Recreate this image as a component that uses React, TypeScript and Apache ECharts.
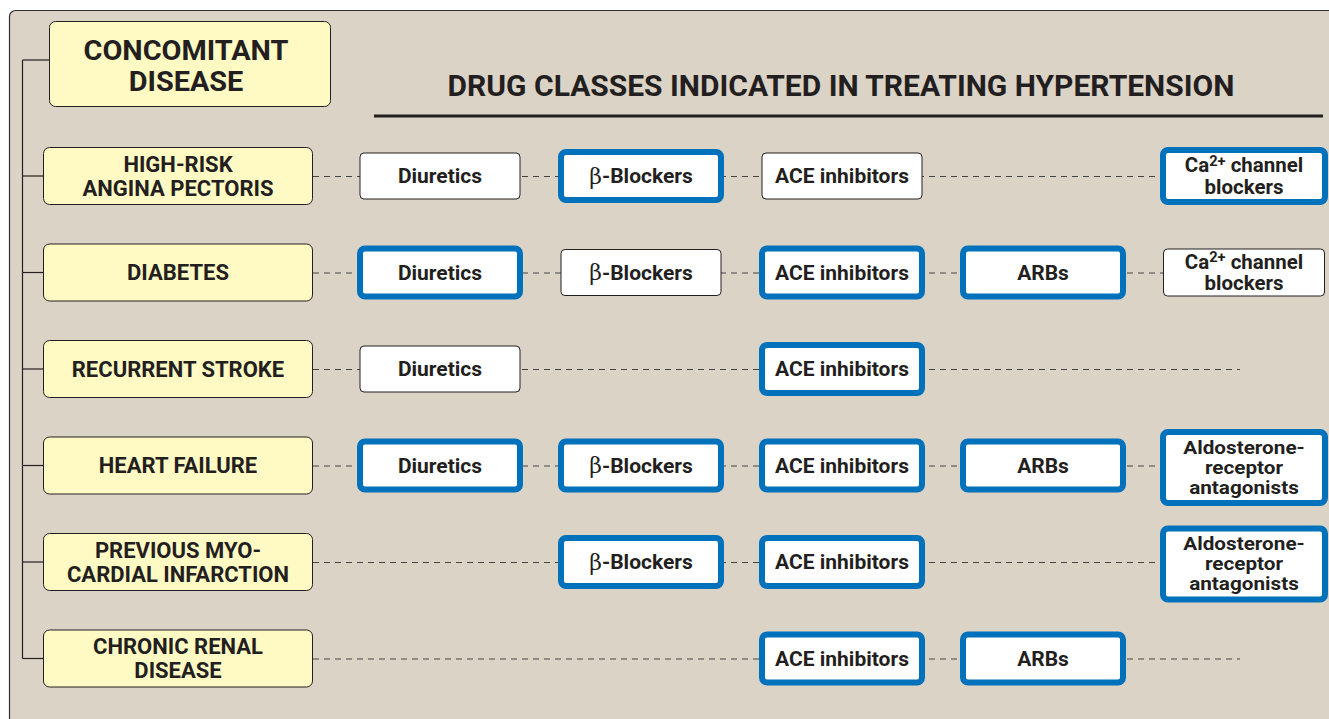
import React, { useEffect, useRef } from "react";
import * as echarts from "echarts";

const headerLabel = "CONCOMITANT\nDISEASE";
const titleText = "DRUG CLASSES INDICATED IN TREATING HYPERTENSION";

const diseases = [
  "HIGH-RISK\nANGINA PECTORIS",
  "DIABETES",
  "RECURRENT STROKE",
  "HEART FAILURE",
  "PREVIOUS MYO-\nCARDIAL INFARCTION",
  "CHRONIC RENAL\nDISEASE",
];

const drugColumns = ["Diuretics", "β-Blockers", "ACE inhibitors", "ARBs", "Other"];

const drugClasses = [
  "Diuretics",
  "β-Blockers",
  "ACE inhibitors",
  "ARBs",
  "Ca2+ channel blockers",
  "Aldosterone-receptor antagonists",
];
const drugClassColumn = [0, 1, 2, 3, 4, 4];
const drugClassLabels = [
  "{t|Diuretics}",
  "{g|β}{t|-Blockers}",
  "{t|ACE inhibitors}",
  "{t|ARBs}",
  "{m|Ca}{sup|2+}{m| channel}\n{m|blockers}",
  "{s|Aldosterone-}\n{s|receptor}\n{s|antagonists}",
];
const drugClassLines = [1, 1, 1, 1, 2, 3];

// per disease: [drug class index, 1 = compelling indication (blue frame)]
const anginaIndications = [[0, 0], [1, 1], [2, 0], [4, 1]];
const diabetesIndications = [[0, 1], [1, 0], [2, 1], [3, 1], [4, 0]];
const strokeIndications = [[0, 0], [2, 1]];
const heartFailureIndications = [[0, 1], [1, 1], [2, 1], [3, 1], [5, 1]];
const infarctionIndications = [[1, 1], [2, 1], [5, 1]];
const renalIndications = [[2, 1], [3, 1]];
const indications = [
  anginaIndications,
  diabetesIndications,
  strokeIndications,
  heartFailureIndications,
  infarctionIndications,
  renalIndications,
];

const INK = "#231f20";
const BLUE = "#0071bb";
const YELLOW = "#fff9c4";
const BEIGE = "#dcd3c7";
const FONT = "Roboto, Lato, sans-serif";

const richStyles = {
  t: { fontFamily: FONT, fontWeight: "bold", fontSize: 21, fill: INK, lineHeight: 23 },
  g: { fontFamily: "'DejaVu Serif', 'Liberation Serif', serif", fontWeight: "normal", fontSize: 22, fill: INK, lineHeight: 23 },
  m: { fontFamily: FONT, fontWeight: "bold", fontSize: 19.5, fill: INK, lineHeight: 21.5 },
  sup: { fontFamily: FONT, fontWeight: "bold", fontSize: 14, fill: INK, lineHeight: 15, verticalAlign: "top" },
  s: { fontFamily: FONT, fontWeight: "bold", fontSize: 18.5, fill: INK, lineHeight: 20 },
};
const labelScaleByLines = [1, 1, 1.05, 1.12];

export default function App() {
  const ref = useRef<HTMLDivElement>(null);
  useEffect(() => {
    document.body.style.margin = "0";
    const chart = echarts.init(ref.current!, null, { renderer: "svg" });

    const renderRow = (params: any, api: any) => {
      const row = params.dataIndex;
      const y = api.coord([0, row])[1];
      const prevY = row === 0 ? 60 : api.coord([0, row - 1])[1];
      const lineEnd = api.coord([4, row])[0] - 4;
      const children: any[] = [];
      children.push({
        type: "line",
        shape: { x1: 22.5, y1: prevY, x2: 22.5, y2: y },
        style: { stroke: INK, lineWidth: 1.2 },
      });
      children.push({
        type: "line",
        shape: { x1: 22.5, y1: y, x2: 43, y2: y },
        style: { stroke: INK, lineWidth: 1.2 },
      });
      children.push({
        type: "line",
        shape: { x1: 313, y1: y + 0.5, x2: lineEnd, y2: y + 0.5 },
        style: { stroke: "#444", lineWidth: 1.1, lineDash: [6, 5] },
      });
      children.push({
        type: "rect",
        shape: { x: 43.5, y: y - 28.5, width: 269, height: 57, r: 6 },
        style: { fill: YELLOW, stroke: INK, lineWidth: 1 },
      });
      children.push({
        type: "text",
        x: 178,
        y: y,
        style: {
          text: diseases[row],
          fontFamily: FONT,
          fontWeight: "bold",
          fontSize: 22,
          lineHeight: 24,
          fill: INK,
          align: "center",
          verticalAlign: "middle",
        },
      });
      indications[row].forEach(([cls, strong]) => {
        const x = api.coord([drugClassColumn[cls], row])[0];
        const lines = drugClassLines[cls];
        let w: number, h: number;
        if (lines === 1) {
          w = 160;
          h = strong ? 48 : 46;
        } else if (lines === 2) {
          w = strong ? 162 : 161;
          h = strong ? 52 : 47;
        } else {
          w = 162;
          h = 71;
        }
        const dy = lines === 3 ? 2 : 0;
        children.push({
          type: "rect",
          shape: { x: x - w / 2, y: y - h / 2 + dy, width: w, height: h, r: strong ? 5 : 4 },
          style: {
            fill: "#fff",
            stroke: strong ? BLUE : INK,
            lineWidth: strong ? 6 : 1,
          },
        });
        children.push({
          type: "text",
          x: x,
          y: y + dy,
          scaleX: labelScaleByLines[lines],
          style: {
            text: drugClassLabels[cls],
            rich: richStyles,
            align: "center",
            verticalAlign: "middle",
            fill: INK,
          },
        });
      });
      return { type: "group", children };
    };

    chart.setOption({
      animation: false,
      grid: {
        left: 339.5,
        top: 127.75,
        width: 1005,
        height: 579,
        containLabel: false,
        outerBoundsMode: "none",
      },
      xAxis: { type: "category", data: drugColumns, show: false },
      yAxis: { type: "category", data: diseases, show: false, inverse: true },
      graphic: [
        {
          type: "rect",
          z: 0,
          shape: { x: 9.5, y: 10.5, width: 1400, height: 800, r: 6 },
          style: { fill: BEIGE, stroke: "#333", lineWidth: 1.2 },
        },
        {
          type: "line",
          z: 1,
          shape: { x1: 22.5, y1: 60, x2: 49, y2: 60 },
          style: { stroke: INK, lineWidth: 1.2 },
        },
        {
          type: "rect",
          z: 1,
          shape: { x: 49.5, y: 21.5, width: 281, height: 85, r: 6 },
          style: { fill: YELLOW, stroke: INK, lineWidth: 1 },
        },
        {
          type: "text",
          z: 2,
          x: 186,
          y: 66,
          scaleX: 1.05,
          style: {
            text: headerLabel,
            fontFamily: FONT,
            fontWeight: "bold",
            fontSize: 27.5,
            lineHeight: 31,
            fill: INK,
            align: "center",
            verticalAlign: "middle",
          },
        },
        {
          type: "text",
          z: 2,
          x: 841,
          y: 85,
          style: {
            text: titleText,
            fontFamily: FONT,
            fontWeight: "bold",
            fontSize: 30,
            fill: INK,
            align: "center",
            verticalAlign: "middle",
          },
        },
        {
          type: "line",
          z: 2,
          shape: { x1: 374, y1: 116, x2: 1323, y2: 116 },
          style: { stroke: INK, lineWidth: 3 },
        },
      ],
      series: [
        {
          type: "custom",
          coordinateSystem: "cartesian2d",
          z: 5,
          silent: true,
          renderItem: renderRow,
          data: diseases.map((_, i) => [0, i]),
        },
      ],
    });
    return () => chart.dispose();
  }, []);
  return (
    <div
      ref={ref}
      style={{ position: "absolute", left: 0, top: 0, width: 1329, height: 719 }}
    />
  );
}
